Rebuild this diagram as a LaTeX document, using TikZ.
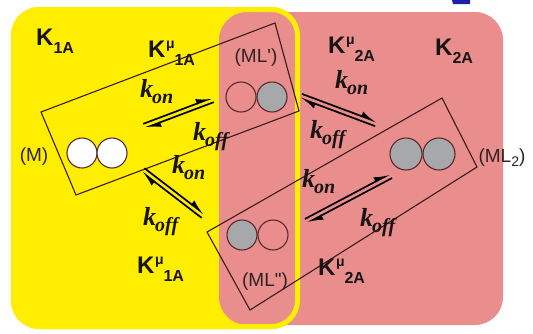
\documentclass[tikz,border=0pt]{standalone}
\usepackage{fontspec}
\setmainfont{Liberation Serif}
\newfontfamily\lsans{Liberation Sans}
\newfontfamily\lserif{Liberation Serif}
\usetikzlibrary{arrows.meta,calc}

\definecolor{bgyellow}{RGB}{255,238,0}
\definecolor{bgpink}{RGB}{233,141,141}
\definecolor{ballgray}{RGB}{166,168,172}
\definecolor{rimcol}{RGB}{90,40,45}
\definecolor{boxcol}{RGB}{55,28,28}
\definecolor{markblue}{RGB}{30,30,170}
\definecolor{inkcol}{RGB}{25,20,20}
\definecolor{statecol}{RGB}{45,35,35}

% rate constants k_on / k_off
\newcommand\rate[1]{{\lserif\bfseries\itshape\fontsize{26}{26}\selectfont k\kern-1pt\raisebox{-6pt}{\fontsize{20}{20}\selectfont #1}}}
% equilibrium constants K_xx and K^mu_xx
\newcommand\eqK[1]{{\lsans\bfseries\fontsize{24}{24}\selectfont K\raisebox{-8pt}{\fontsize{16}{16}\selectfont #1}}}
\newcommand\eqKmu[1]{{\lsans\bfseries\fontsize{24}{24}\selectfont K\kern0.5pt\raisebox{9pt}{\fontsize{14}{14}\selectfont μ}\raisebox{-8pt}{\fontsize{16}{16}\selectfont #1}}}

\tikzset{
  ball/.style={circle, draw=rimcol, line width=1.1pt, minimum size=30pt, inner sep=0pt},
  white ball/.style={ball, fill=white},
  grey ball/.style={ball, fill=ballgray},
  open ball/.style={ball},
  pairbox/.style={draw=boxcol, line width=1.1pt, line join=miter},
  eqline/.style={draw=black, line width=1.7pt, -{Latex[harpoon,length=13pt,width=10pt]}},
  lab/.style={inner sep=0pt, anchor=base west, text=inkcol},
  state/.style={inner sep=0pt, text=statecol, font=\lsans\fontsize{19}{19}\selectfont},
}
\newcommand\gap{2.3pt}

\begin{document}
\begin{tikzpicture}[x=1pt,y=-1pt]
\useasboundingbox (0,0) rectangle (533,333);
\begin{scope}
\clip (0,0) rectangle (533,333);

% background regions
\fill[bgyellow, rounded corners=28pt] (11,7) rectangle (300,329);
\fill[bgpink, rounded corners=28pt] (219,12) rectangle (503,325);
\draw[bgyellow, line width=5pt, rounded corners=26pt] (13.5,9.5) rectangle (297.5,326.5);

% small blue stroke at the top edge
\fill[markblue] (452,0) -- (470,0) -- (470,4) -- (453,4) -- cycle;

% pair boxes
\coordinate (r1a) at (41,112);
\coordinate (r1b) at (275,23);
\coordinate (r1c) at (299,111);
\coordinate (r1d) at (76,195);
\draw[pairbox] (r1a) -- (r1b) -- (r1c) -- (r1d) -- cycle;
\coordinate (r2a) at (207,232);
\coordinate (r2b) at (442,98);
\coordinate (r2c) at (477,167);
\coordinate (r2d) at (250,310);
\draw[pairbox] (r2a) -- (r2b) -- (r2c) -- (r2d) -- cycle;

% binding sites
\node[white ball] (m1) at (82,153) {};
\node[white ball] (m2) at (112,153) {};
\node[open ball] (p1) at (241,97) {};
\node[grey ball] (p2) at (272,97) {};
\node[grey ball] (q1) at (242,235) {};
\node[open ball] (q2) at (273,235) {};
\node[grey ball, minimum size=32pt] (d1) at (406,154) {};
\node[grey ball, minimum size=32pt] (d2) at (439,154) {};

% state labels
\node[state] (sM) at (34,157) {(M)};
\node[state] (sP) at (256,58) {(ML')};
\node[state] (sQ) at (265,282) {(ML")};
\node[state] (sD) at (502,158) {(ML\raisebox{-4pt}{\fontsize{14}{14}\selectfont 2})};

% equilibrium arrows
\coordinate (a1) at (144,126); \coordinate (b1) at (213,100);
\coordinate (a2) at (143,170); \coordinate (b2) at (203,216);
\coordinate (a3) at (301,96);  \coordinate (b3) at (376,124);
\coordinate (a4) at (306,221); \coordinate (b4) at (391,176);
\foreach \i in {1,2,3,4}{
  \draw[eqline] ($(a\i)!\gap!90:(b\i)$) -- ($(b\i)!\gap!-90:(a\i)$);
  \draw[eqline] ($(b\i)!\gap!90:(a\i)$) -- ($(a\i)!\gap!-90:(b\i)$);
}

% rate constants
\node[lab] (kon1)  at (140,97)  {\rate{on}};
\node[lab] (koff1) at (193,140) {\rate{off}};
\node[lab] (kon2)  at (172,173) {\rate{on}};
\node[lab] (koff2) at (143,225) {\rate{off}};
\node[lab] (kon3)  at (335,88)  {\rate{on}};
\node[lab] (koff3) at (310,138) {\rate{off}};
\node[lab] (kon4)  at (302,187) {\rate{on}};
\node[lab] (koff4) at (360,226) {\rate{off}};

% equilibrium constants
\node[lab] (K1)   at (36,45)   {\eqK{1A}};
\node[lab] (Km1t) at (148,57)  {\eqKmu{1A}};
\node[lab] (Km2t) at (328,53)  {\eqKmu{2A}};
\node[lab] (K2)   at (435,55)  {\eqK{2A}};
\node[lab] (Km1b) at (137,273) {\eqKmu{1A}};
\node[lab] (Km2b) at (318,275) {\eqKmu{2A}};
\end{scope}
\end{tikzpicture}
\end{document}
